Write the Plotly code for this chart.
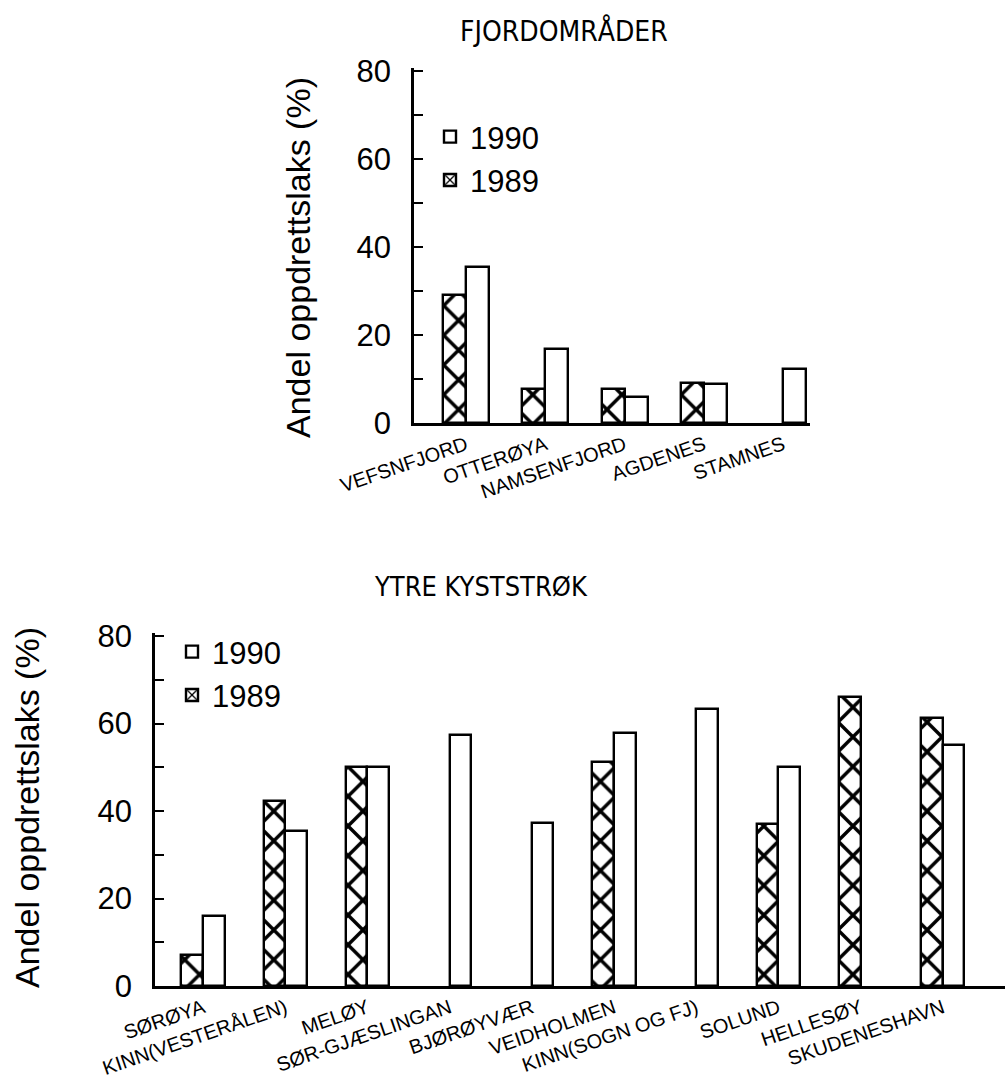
import plotly.graph_objects as go

# ---------------- data ----------------
fjord_sites = ["VEFSNFJORD", "OTTERØYA", "NAMSENFJORD", "AGDENES", "STAMNES"]
fjord_1989 = [29.0, 7.7, 7.7, 9.1, None]
fjord_1990 = [35.5, 16.8, 5.9, 8.9, 12.3]

coast_sites = ["SØRØYA", "KINN(VESTERÅLEN)", "MELØY", "SØR-GJÆSLINGAN", "BJØRØYVÆR",
               "VEIDHOLMEN", "KINN(SOGN OG FJ)", "SOLUND", "HELLESØY", "SKUDENESHAVN"]
coast_1989 = [7.1, 42.3, 50.0, None, None, 51.3, None, 37.1, 66.1, 61.3]
coast_1990 = [16.0, 35.5, 50.0, 57.4, 37.3, 57.9, 63.4, 50.1, None, 55.1]

y_tickvals = [0, 20, 40, 60, 80]
y_title = "Andel oppdrettslaks (%)"
titles = ["FJORDOMRÅDER", "YTRE KYSTSTRØK"]

# ---------------- figure ----------------
W, H = 1005, 1078
BLACK = "black"
FONT = "Liberation Sans, Arial, sans-serif"
NARROW = "Liberation Sans Narrow, DejaVu Sans Condensed, Arial Narrow, sans-serif"

def px_x(p):
    return p / W

def px_y(p):
    return 1 - p / H

fig = go.Figure()

hatch = dict(shape="x", size=21, solidity=0.3, fgcolor=BLACK, fgopacity=1,
             bgcolor="white", fillmode="replace")

def add_pair(sites, v89, v90, xa, ya, width, leg):
    fig.add_trace(go.Bar(x=sites, y=v89, name="1989", xaxis=xa, yaxis=ya,
                         width=width, offset=-width, opacity=1,
                         marker=dict(color="white", pattern=hatch, opacity=1,
                                     line=dict(color=BLACK, width=2.4)),
                         legend=leg))
    fig.add_trace(go.Bar(x=sites, y=v90, name="1990", xaxis=xa, yaxis=ya,
                         width=width, offset=0, opacity=1,
                         marker=dict(color="white", opacity=1,
                                     line=dict(color=BLACK, width=2.4)),
                         legend=leg))

add_pair(fjord_sites, fjord_1989, fjord_1990, "x", "y", 0.29, "legend")
add_pair(coast_sites, coast_1989, coast_1990, "x2", "y2", 0.262, "legend2")

xcommon = dict(type="category", showline=True, linecolor=BLACK, linewidth=2.5,
               ticks="", tickangle=-19, showgrid=False, zeroline=False,
               automargin=False,
               tickfont=dict(family=FONT, size=20, color=BLACK))
ycommon = dict(showline=True, linecolor=BLACK, linewidth=2.5, showgrid=False,
               zeroline=False, tickvals=y_tickvals, ticks="inside", ticklen=9,
               tickwidth=2, tickcolor=BLACK, ticklabelstandoff=14,
               automargin=False,
               minor=dict(dtick=10, ticks="inside", ticklen=9, tickwidth=2,
                          tickcolor=BLACK, showgrid=False),
               tickfont=dict(family=FONT, size=31, color=BLACK))

fig.update_layout(
    width=W, height=H, margin=dict(l=0, r=0, t=0, b=0, autoexpand=False),
    paper_bgcolor="white", plot_bgcolor="white",
    barmode="overlay", bargap=0,
    xaxis=dict(xcommon, domain=[px_x(414), px_x(810)], range=[-0.656, 4.34], anchor="y"),
    yaxis=dict(ycommon, domain=[px_y(423), px_y(68)], range=[0, 80.68], anchor="x"),
    xaxis2=dict(xcommon, domain=[px_x(155), 1.0], range=[-0.584, 9.757], anchor="y2"),
    yaxis2=dict(ycommon, domain=[px_y(986), px_y(633)], range=[0, 80.69], anchor="x2"),
    legend=dict(x=px_x(430), y=px_y(110), xanchor="left", yanchor="top",
                traceorder="reversed", bgcolor="rgba(0,0,0,0)",
                font=dict(family=FONT, size=31, color=BLACK)),
    legend2=dict(x=px_x(172), y=px_y(625), xanchor="left", yanchor="top",
                 traceorder="reversed", bgcolor="rgba(0,0,0,0)",
                 font=dict(family=FONT, size=31, color=BLACK)),
    showlegend=True,
)

annos = [
    dict(text=titles[0], x=px_x(564), y=px_y(31), xref="paper", yref="paper",
         xanchor="center", yanchor="middle",
         showarrow=False, font=dict(family=NARROW, size=28, color=BLACK)),
    dict(text=titles[1], x=px_x(481), y=px_y(586), xref="paper", yref="paper",
         xanchor="center", yanchor="middle",
         showarrow=False, font=dict(family=NARROW, size=27, color=BLACK)),
    dict(text=y_title, x=px_x(298), y=px_y(258), xref="paper", yref="paper",
         xanchor="center", yanchor="middle",
         textangle=-90, showarrow=False, font=dict(family=FONT, size=34, color=BLACK)),
    dict(text=y_title, x=px_x(27), y=px_y(808), xref="paper", yref="paper",
         xanchor="center", yanchor="middle",
         textangle=-90, showarrow=False, font=dict(family=FONT, size=34, color=BLACK)),
]
fig.update_layout(annotations=annos)

fig.write_html("out.html")
